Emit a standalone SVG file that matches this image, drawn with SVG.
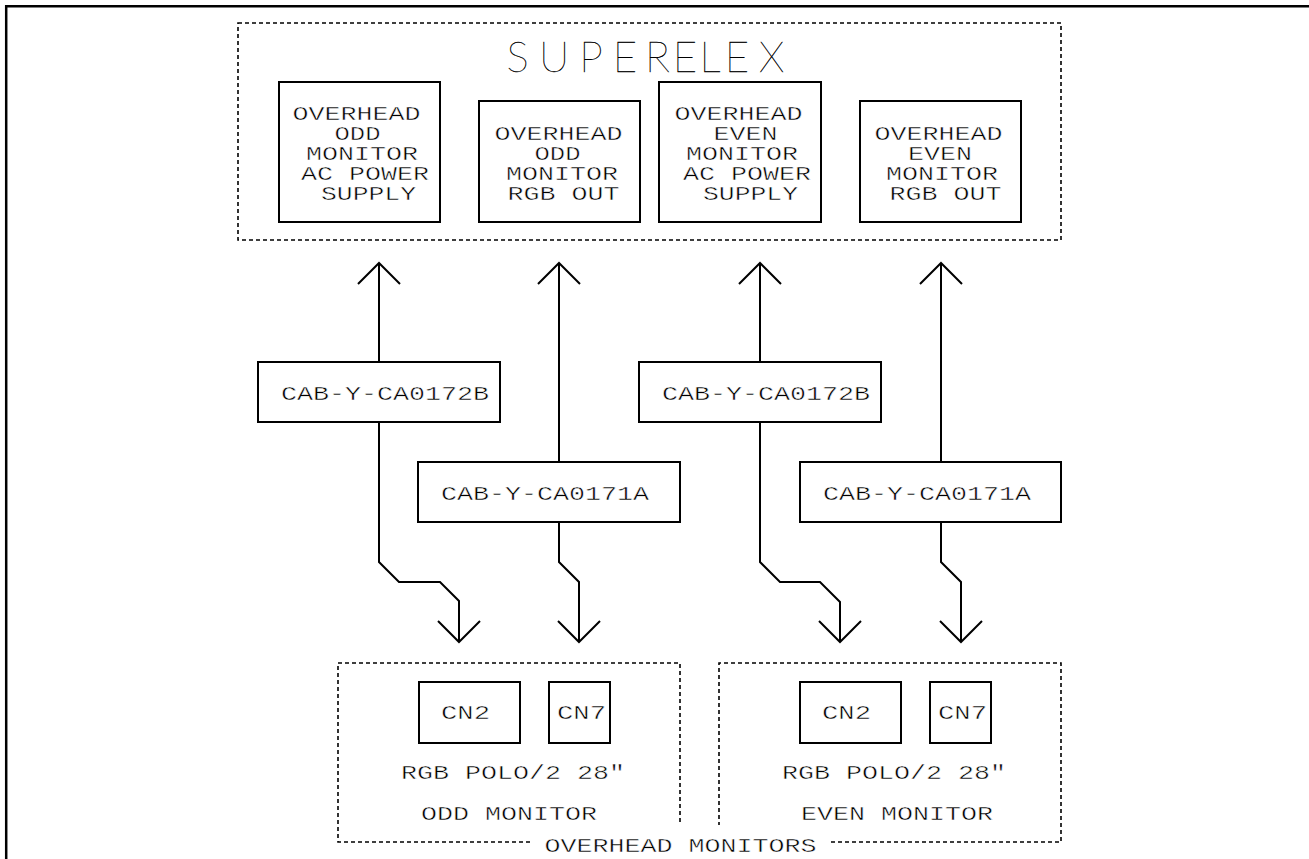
<svg xmlns="http://www.w3.org/2000/svg" width="1309" height="859" viewBox="0 0 1309 859">
  <style>
    .frame { fill: none; stroke: #000; stroke-width: 2.5; }
    .dash { fill: none; stroke: #000; stroke-width: 1.6; stroke-dasharray: 4 3; }
    .box { fill: #fff; stroke: #000; stroke-width: 2; }
    .wire { fill: none; stroke: #000; stroke-width: 2; stroke-linejoin: miter; }
    .t { font-family: "Liberation Mono", "DejaVu Sans Mono", monospace; font-size: 20px; fill: #000; stroke: #fff; stroke-width: 0.45; }
    .title { font-family: Lato, "Liberation Sans", sans-serif; font-weight: 200; font-size: 42px; fill: #000; stroke: #000; stroke-width: 0.35; text-anchor: middle; }
  </style>
  <defs>
    <marker id="vee" markerUnits="userSpaceOnUse" viewBox="-1 -1 24 44" markerWidth="24" markerHeight="44" refX="21" refY="21" orient="auto" overflow="visible">
      <path d="M0,0 L21,21 L0,42" fill="none" stroke="#000" stroke-width="2"/>
    </marker>
  </defs>

  <rect width="1309" height="859" fill="#fff"/>
  <!-- drawing frame -->
  <path class="frame" d="M6.2,859 V6.2 H1309"/>

  <!-- SUPERELEX enclosure -->
  <g id="superelex">
    <rect class="dash" x="238" y="23" width="823" height="217"/>
    <text class="title" y="72"><tspan x="517.5">S</tspan><tspan x="554">U</tspan><tspan x="591">P</tspan><tspan x="625">E</tspan><tspan x="657.5">R</tspan><tspan x="685">E</tspan><tspan x="710">L</tspan><tspan x="737">E</tspan><tspan x="771.7">X</tspan></text>
  </g>

  <g id="odd-ac-supply">
    <rect class="box" x="279" y="82" width="161" height="140"/>
    <text class="t" x="292.5" y="120" textLength="128" lengthAdjust="spacingAndGlyphs">OVERHEAD</text>
    <text class="t" x="334.5" y="140" textLength="46" lengthAdjust="spacingAndGlyphs">ODD</text>
    <text class="t" x="306" y="160" textLength="112" lengthAdjust="spacingAndGlyphs">MONITOR</text>
    <text class="t" x="301" y="180" textLength="128" lengthAdjust="spacingAndGlyphs">AC POWER</text>
    <text class="t" x="321" y="200" textLength="95" lengthAdjust="spacingAndGlyphs">SUPPLY</text>
  </g>

  <g id="odd-rgb-out">
    <rect class="box" x="479" y="101" width="161" height="121"/>
    <text class="t" x="494.5" y="140" textLength="128" lengthAdjust="spacingAndGlyphs">OVERHEAD</text>
    <text class="t" x="534.5" y="160" textLength="46" lengthAdjust="spacingAndGlyphs">ODD</text>
    <text class="t" x="506" y="180" textLength="112" lengthAdjust="spacingAndGlyphs">MONITOR</text>
    <text class="t" x="507.5" y="200" textLength="112" lengthAdjust="spacingAndGlyphs">RGB OUT</text>
  </g>

  <g id="even-ac-supply">
    <rect class="box" x="659" y="82" width="162" height="140"/>
    <text class="t" x="674.5" y="120" textLength="128" lengthAdjust="spacingAndGlyphs">OVERHEAD</text>
    <text class="t" x="713.5" y="140" textLength="64" lengthAdjust="spacingAndGlyphs">EVEN</text>
    <text class="t" x="686" y="160" textLength="112" lengthAdjust="spacingAndGlyphs">MONITOR</text>
    <text class="t" x="683" y="180" textLength="128" lengthAdjust="spacingAndGlyphs">AC POWER</text>
    <text class="t" x="703" y="200" textLength="95" lengthAdjust="spacingAndGlyphs">SUPPLY</text>
  </g>

  <g id="even-rgb-out">
    <rect class="box" x="860" y="101" width="161" height="121"/>
    <text class="t" x="874.5" y="140" textLength="128" lengthAdjust="spacingAndGlyphs">OVERHEAD</text>
    <text class="t" x="908" y="160" textLength="64" lengthAdjust="spacingAndGlyphs">EVEN</text>
    <text class="t" x="886" y="180" textLength="112" lengthAdjust="spacingAndGlyphs">MONITOR</text>
    <text class="t" x="889.5" y="200" textLength="112" lengthAdjust="spacingAndGlyphs">RGB OUT</text>
  </g>

  <!-- cables -->
  <g id="connectors">
    <path class="wire" d="M379,362 V263" marker-end="url(#vee)"/>
    <path class="wire" d="M379,422 V562 L399,582 H440 L459,601 V642" marker-end="url(#vee)"/>
    <path class="wire" d="M559,462 V263" marker-end="url(#vee)"/>
    <path class="wire" d="M559,522 V562 L579,582 V642" marker-end="url(#vee)"/>
    <path class="wire" d="M760,362 V263" marker-end="url(#vee)"/>
    <path class="wire" d="M760,422 V562 L780,582 H820 L840,602 V642" marker-end="url(#vee)"/>
    <path class="wire" d="M941,462 V263" marker-end="url(#vee)"/>
    <path class="wire" d="M941,522 V562 L961,582 V642" marker-end="url(#vee)"/>
  </g>

  <g id="cable-odd-ac">
    <rect class="box" x="258" y="362" width="242" height="60"/>
    <text class="t" x="281" y="400" textLength="208" lengthAdjust="spacingAndGlyphs">CAB-Y-CA0172B</text>
  </g>
  <g id="cable-odd-rgb">
    <rect class="box" x="418" y="462" width="262" height="60"/>
    <text class="t" x="441" y="500" textLength="208" lengthAdjust="spacingAndGlyphs">CAB-Y-CA0171A</text>
  </g>
  <g id="cable-even-ac">
    <rect class="box" x="639" y="362" width="242" height="60"/>
    <text class="t" x="662" y="400" textLength="208" lengthAdjust="spacingAndGlyphs">CAB-Y-CA0172B</text>
  </g>
  <g id="cable-even-rgb">
    <rect class="box" x="800" y="462" width="261" height="60"/>
    <text class="t" x="823" y="500" textLength="208" lengthAdjust="spacingAndGlyphs">CAB-Y-CA0171A</text>
  </g>

  <!-- overhead monitors enclosure -->
  <g id="overhead-monitors">
    <path class="dash" d="M530,842 H338 V663 H680 V825"/>
    <path class="dash" d="M831,842 H1061 V663 H719 V825"/>
    <text class="t" x="544.5" y="852" textLength="272" lengthAdjust="spacingAndGlyphs">OVERHEAD MONITORS</text>
  </g>

  <g id="odd-monitor">
    <rect class="box" x="419" y="682" width="101" height="61"/>
    <text class="t" x="441" y="719" textLength="49" lengthAdjust="spacingAndGlyphs">CN2</text>
    <rect class="box" x="549" y="682" width="61" height="61"/>
    <text class="t" x="557" y="719" textLength="49" lengthAdjust="spacingAndGlyphs">CN7</text>
    <text class="t" x="401" y="779" textLength="224" lengthAdjust="spacingAndGlyphs">RGB POLO/2 28"</text>
    <text class="t" x="421" y="820" textLength="176" lengthAdjust="spacingAndGlyphs">ODD MONITOR</text>
  </g>

  <g id="even-monitor">
    <rect class="box" x="800" y="682" width="101" height="61"/>
    <text class="t" x="822" y="719" textLength="49" lengthAdjust="spacingAndGlyphs">CN2</text>
    <rect class="box" x="930" y="682" width="61" height="61"/>
    <text class="t" x="938" y="719" textLength="49" lengthAdjust="spacingAndGlyphs">CN7</text>
    <text class="t" x="782" y="779" textLength="224" lengthAdjust="spacingAndGlyphs">RGB POLO/2 28"</text>
    <text class="t" x="801" y="820" textLength="192" lengthAdjust="spacingAndGlyphs">EVEN MONITOR</text>
  </g>
</svg>
